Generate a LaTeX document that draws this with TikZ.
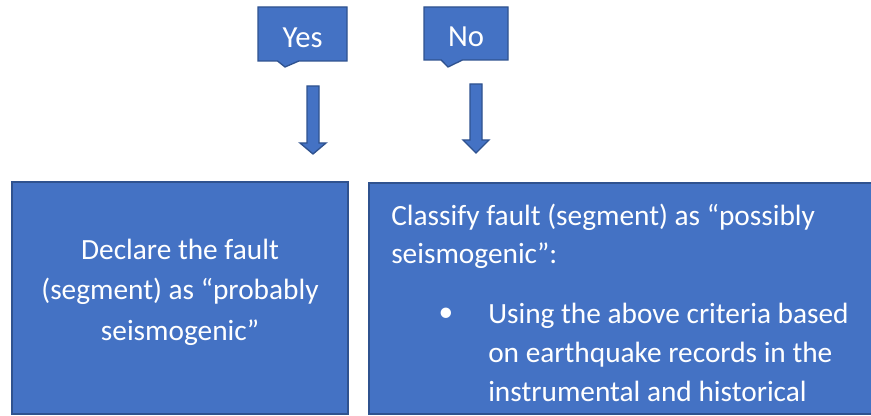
\documentclass[tikz,border=0pt]{standalone}
\usepackage{fontspec}
\setmainfont{Carlito}
\usetikzlibrary{shapes.callouts, positioning}
\definecolor{boxblue}{HTML}{4472C4}
\definecolor{edgeblue}{HTML}{2F528F}

\begin{document}
\begin{tikzpicture}[x = 0.75pt, y = -0.75pt,
    panel/.style = {draw = edgeblue, fill = boxblue, line width = 1pt},
    answer/.style = {rectangle callout, draw = edgeblue, fill = boxblue, line width = 1pt,
        text = white, inner sep = 0pt, callout pointer width = 16pt,
        text height = 20pt, text depth = 0pt, font = \fontsize{23}{28}\selectfont},
    body/.style = {text = white, inner sep = 0pt, font = \fontsize{22}{28.5}\selectfont}]
    % Area
    \clip (0,0) rectangle (871,416);
    \fill[white] (0,0) rectangle (871,416);
    % Risposte
    \coordinate (yestip) at (285,67);
    \coordinate (notip) at (448,67);
    \node[answer, minimum width = 66.75pt, minimum height = 40.5pt,
        callout absolute pointer = {(yestip)}] (yes) at (302.5,34) {Yes};
    \node[answer, minimum width = 63pt, minimum height = 39.75pt,
        callout absolute pointer = {(notip)}] (no) at (466,33.5) {No};
    % Frecce
    \foreach \x/\ytop/\yhead/\ytip in {313/86/143/154, 476/84/140/153}{
        \filldraw[panel] (\x-6,\ytop) -- (\x+6,\ytop) -- (\x+6,\yhead) -- (\x+13,\yhead)
            -- (\x,\ytip) -- (\x-13,\yhead) -- (\x-6,\yhead) -- cycle;
    }
    % Riquadri
    \filldraw[panel] (12,182) rectangle (348,414);
    \filldraw[panel] (369,183) rectangle (890,414);
    \node[body, align = center, anchor = north, font = \fontsize{22}{30.5}\selectfont]
        (probably) at (180,238.5)
        {Declare the fault\\(segment) as “probably\\seismogenic”};
    \node[body, align = left, anchor = north west] (possibly) at (391,203.5)
        {Classify fault (segment) as “possibly\\seismogenic”:};
    \node[body, anchor = base] (dot) at (446,322) {•};
    \node[body, align = left, anchor = north west, font = \fontsize{22}{29.5}\selectfont]
        (criteria) at (488,302.5)
        {Using the above criteria based\\on earthquake records in the\\instrumental and historical};
\end{tikzpicture}
\end{document}
